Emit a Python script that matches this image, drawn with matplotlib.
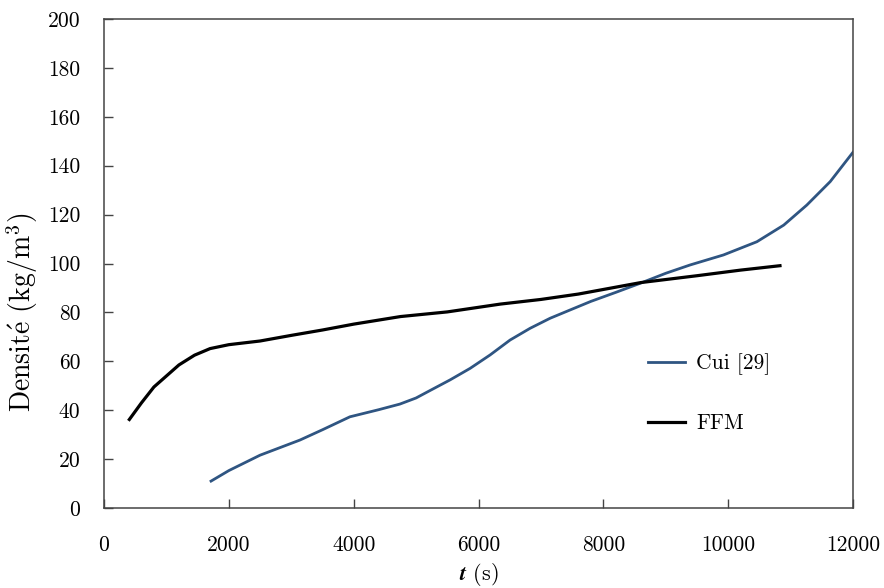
import matplotlib
matplotlib.use("Agg")
import matplotlib.pyplot as plt

# FFM curve (black)
t_ffm = [406, 600, 800, 1000, 1200, 1450, 1700, 2000, 2500, 3000, 3500, 4000,
         4750, 5500, 6350, 7000, 7600, 8600, 9500, 10200, 10830]
rho_ffm = [36.2, 43, 49.5, 54, 58.5, 62.5, 65.2, 66.8, 68.3, 70.6, 72.8, 75.2,
           78.3, 80.2, 83.4, 85.3, 87.5, 92.2, 95, 97.3, 99.1]

# Cui [29] curve (blue)
t_cui = [1715, 2000, 2500, 3140, 3500, 3940, 4400, 4740, 5000, 5220, 5545, 5865,
         6186, 6506, 6827, 7147, 7468, 7800, 8200, 8590, 9000, 9390, 9925,
         10460, 10890, 11260, 11635, 12000]
rho_cui = [11, 15.3, 21.6, 27.8, 32, 37.3, 40.2, 42.5, 45, 48, 52.4, 57.1,
           62.6, 68.7, 73.5, 77.6, 81, 84.5, 88.2, 91.9, 96, 99.4, 103.5,
           108.9, 115.7, 123.9, 133.5, 145.5]

xticks = [0, 2000, 4000, 6000, 8000, 10000, 12000]
yticks = [0, 20, 40, 60, 80, 100, 120, 140, 160, 180, 200]

plt.rcParams['font.family'] = ['cmr10', 'DejaVu Serif']
plt.rcParams['mathtext.fontset'] = 'cm'
plt.rcParams['axes.unicode_minus'] = False

fig = plt.figure(figsize=(8.84, 5.88), dpi=100)
ax = fig.add_axes([104 / 884, 80 / 588, 749 / 884, 489 / 588])

ax.plot(t_cui, rho_cui, color='#2f5582', linewidth=2.0, label='Cui [29]',
        solid_joinstyle='round')
ax.plot(t_ffm, rho_ffm, color='black', linewidth=2.3, label='FFM',
        solid_joinstyle='round')

ax.set_xlim(0, 12000)
ax.set_ylim(0, 200)
ax.set_xticks(xticks)
ax.set_yticks(yticks)
ax.tick_params(axis='both', direction='in', length=6.5, width=1.0,
               color='#444444', labelsize=15.5)
ax.tick_params(axis='x', pad=20)
ax.tick_params(axis='y', pad=17)
for s in ax.spines.values():
    s.set_color('#444444')
    s.set_linewidth(1.1)

ax.set_xlabel(r'$\mathbfit{t}$ (s)', fontsize=16, labelpad=4)
ax.set_ylabel(r'Densit$\acute{\mathrm{e}}$ (kg/m$^{\mathrm{3}}$)', fontsize=20,
              va='center')
ax.yaxis.set_label_coords(-0.1095, 0.40)

ax.legend(loc='upper left', bbox_to_anchor=(0.712, 0.338), frameon=False,
          fontsize=15.5, labelspacing=1.8, handlelength=1.7, handletextpad=0.55,
          borderpad=0)

fig.savefig('out.png', dpi=100)
